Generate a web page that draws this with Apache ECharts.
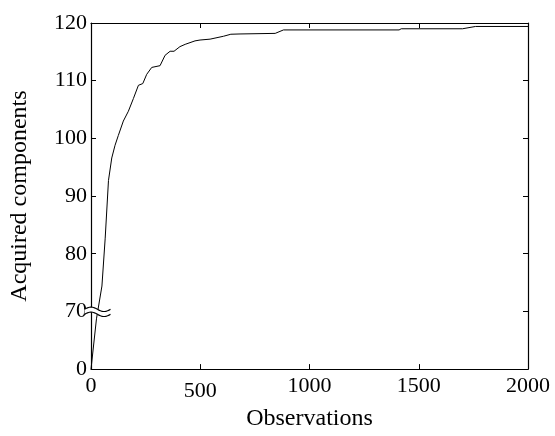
<!DOCTYPE html>
<html>
<head>
<meta charset="utf-8">
<script src="https://cdn.jsdelivr.net/npm/echarts@6/dist/echarts.min.js"></script>
<style>html,body{margin:0;padding:0;background:#fff}#c{width:555px;height:436px}</style>
</head>
<body>
<div id="c"></div>
<script>
// Data
var observations = [0, 25, 50, 65, 80, 95, 110, 125, 148, 171, 194, 217, 237, 255, 278, 316, 339, 362, 380, 407, 431, 476, 499, 545, 606, 640, 682, 843, 881, 1410, 1420, 1700, 1760, 2000];
var components   = [0, 61, 74.4, 82.7, 92.7, 96.6, 98.8, 100.5, 103, 104.7, 106.9, 109.2, 109.5, 111.1, 112.3, 112.6, 114.4, 115.1, 115.1, 115.9, 116.3, 116.9, 117.05, 117.2, 117.7, 118.05, 118.1, 118.2, 118.8, 118.8, 119.0, 119.0, 119.4, 119.4];
var xTicks = [0, 500, 1000, 1500, 2000];
var yTicks = [0, 70, 80, 90, 100, 110, 120];

// Broken y scale: the range 0..70 is compressed into one tick interval
var BREAK = 70, BASE = 60;
function toAxis(v) { return v >= BREAK ? v : BASE + v * (BREAK - BASE) / BREAK; }
function fromAxis(a) { return a >= BREAK ? a : Math.round((a - BASE) * BREAK / (BREAK - BASE)); }

var FONT = 'Liberation Serif';
var seriesData = observations.map(function (x, i) { return [x, toAxis(components[i])]; });

var chart = echarts.init(document.getElementById('c'), null, {renderer: 'canvas'});
var tickStyle = {show: true, inside: true, length: 5, lineStyle: {color: '#000', width: 1}};
var lineStyle = {show: true, onZero: false, lineStyle: {color: '#000', width: 1.2}};
chart.setOption({
  animation: false,
  backgroundColor: '#fff',
  grid: {left: 91, top: 23, width: 437, height: 359},
  xAxis: [{
    type: 'value', min: xTicks[0], max: xTicks[xTicks.length - 1], interval: 500, position: 'bottom',
    axisLine: lineStyle, axisTick: tickStyle, splitLine: {show: false},
    axisLabel: {
      color: '#000', fontFamily: FONT, fontSize: 22, margin: 6,
      formatter: function (v) { return v === 500 ? '{low|' + v + '}' : String(v); },
      rich: {low: {fontFamily: FONT, fontSize: 22, color: '#000', padding: [5, 0, 0, 0]}}
    },
    name: 'Observations', nameLocation: 'middle', nameGap: 34,
    nameTextStyle: {color: '#000', fontFamily: FONT, fontSize: 24}
  }, {
    type: 'value', min: xTicks[0], max: xTicks[xTicks.length - 1], interval: 500, position: 'top',
    axisLine: lineStyle, axisTick: tickStyle, axisLabel: {show: false}, splitLine: {show: false}
  }],
  yAxis: [{
    type: 'value', min: toAxis(yTicks[0]), max: yTicks[yTicks.length - 1], interval: 10, position: 'left',
    axisLine: lineStyle, axisTick: tickStyle, splitLine: {show: false},
    axisLabel: {color: '#000', fontFamily: FONT, fontSize: 22, margin: 4, formatter: function (a) { return String(fromAxis(a)); }},
    name: 'Acquired components', nameLocation: 'middle', nameGap: 59,
    nameTextStyle: {color: '#000', fontFamily: FONT, fontSize: 24}
  }, {
    type: 'value', min: toAxis(yTicks[0]), max: yTicks[yTicks.length - 1], interval: 10, position: 'right',
    axisLine: lineStyle, axisTick: tickStyle, axisLabel: {show: false}, splitLine: {show: false}
  }],
  series: [{
    type: 'line', data: seriesData, showSymbol: false, symbol: 'none',
    lineStyle: {color: '#000', width: 1}, z: 3
  }]
});

// Axis-break symbol on the left axis
var origin = chart.convertToPixel({xAxisIndex: 0, yAxisIndex: 0}, [0, toAxis(69.5)]);
var cx = origin[0] + 6.5, cy = origin[1];
function wave(dy) {
  var pts = [];
  for (var i = 0; i <= 26; i++) {
    var t = i / 26;
    pts.push([cx - 13 + 26 * t, cy + dy - 2.2 * Math.sin(t * 2 * Math.PI)]);
  }
  return pts;
}
var waveTop = wave(-2.5), waveBot = wave(2.5);
chart.setOption({
  graphic: [
    {type: 'polygon', shape: {points: waveTop.concat(waveBot.slice().reverse())}, style: {fill: '#fff'}, z: 100},
    {type: 'polyline', shape: {points: waveTop}, style: {stroke: '#000', lineWidth: 1.2, fill: null}, z: 101},
    {type: 'polyline', shape: {points: waveBot}, style: {stroke: '#000', lineWidth: 1.2, fill: null}, z: 101}
  ]
});
</script>
</body>
</html>
